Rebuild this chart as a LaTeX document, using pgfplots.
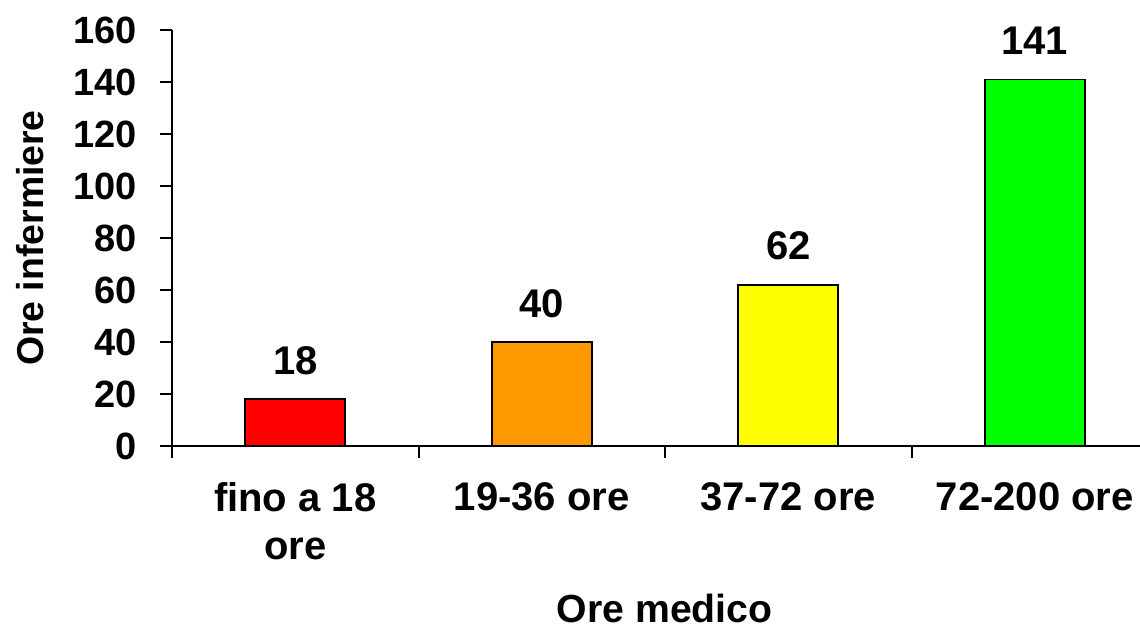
\documentclass[border=0pt]{standalone}
\usepackage{pgfplots}
\pgfplotsset{compat=1.18}
\usepackage{fontspec}
\setmainfont{Liberation Sans}
\definecolor{cred}{HTML}{FF0000}
\definecolor{corange}{HTML}{FF9900}
\definecolor{cyellow}{HTML}{FFFF00}
\definecolor{cgreen}{HTML}{00FF00}
\begin{document}
\begin{tikzpicture}
\begin{axis}[
  at={(0,0)}, anchor=south west,
  scale only axis,
  width=484pt, height=208pt,
  xmin=-0.5, xmax=3.427,
  ymin=0, ymax=160,
  axis x line=bottom, axis y line=left,
  axis line style={-, line width=1pt},
  tick align=outside,
  major tick length=6pt,
  tick style={black, line width=1pt},
  ytick={0,20,...,160},
  xtick={-0.5,0.5,1.5,2.5},
  xticklabels={},
  extra x ticks={0,1,2,3},
  extra x tick labels={fino a 18\\ore, 19-36 ore, 37-72 ore, 72-200 ore},
  extra x tick style={major tick length=0pt},
  /pgf/number format/assume math mode=true,
  yticklabel style={font=\fontsize{19}{19}\selectfont\bfseries, xshift=-8pt},
  xticklabel style={font=\fontsize{20}{24}\selectfont\bfseries, align=center, yshift=-14.5pt},
  ylabel={Ore infermiere},
  xlabel={Ore medico},
  every axis y label/.style={at={(axis description cs:-0.1467,0.5)}, rotate=90, anchor=center, font=\fontsize{18.7}{22}\selectfont\bfseries},
  every axis x label/.style={at={(axis description cs:0.509,-0.425)}, anchor=base, inner sep=0pt, font=\fontsize{19.6}{24}\selectfont\bfseries},
  ybar, bar width=50pt, bar shift=0pt,
  nodes near coords,
  every node near coord/.append style={font=\fontsize{20}{24}\selectfont\bfseries, anchor=base, yshift=12.5pt, black},
  clip=false,
]
\addplot[fill=cred, draw=black, line width=0.9pt] coordinates {(0,18)};
\addplot[fill=corange, draw=black, line width=0.9pt] coordinates {(1,40)};
\addplot[fill=cyellow, draw=black, line width=0.9pt] coordinates {(2,62)};
\addplot[fill=cgreen, draw=black, line width=0.9pt] coordinates {(3,141)};
\end{axis}
\pgfresetboundingbox
\path (-86pt,-93pt) rectangle (484pt,223pt);
\end{tikzpicture}
\end{document}
